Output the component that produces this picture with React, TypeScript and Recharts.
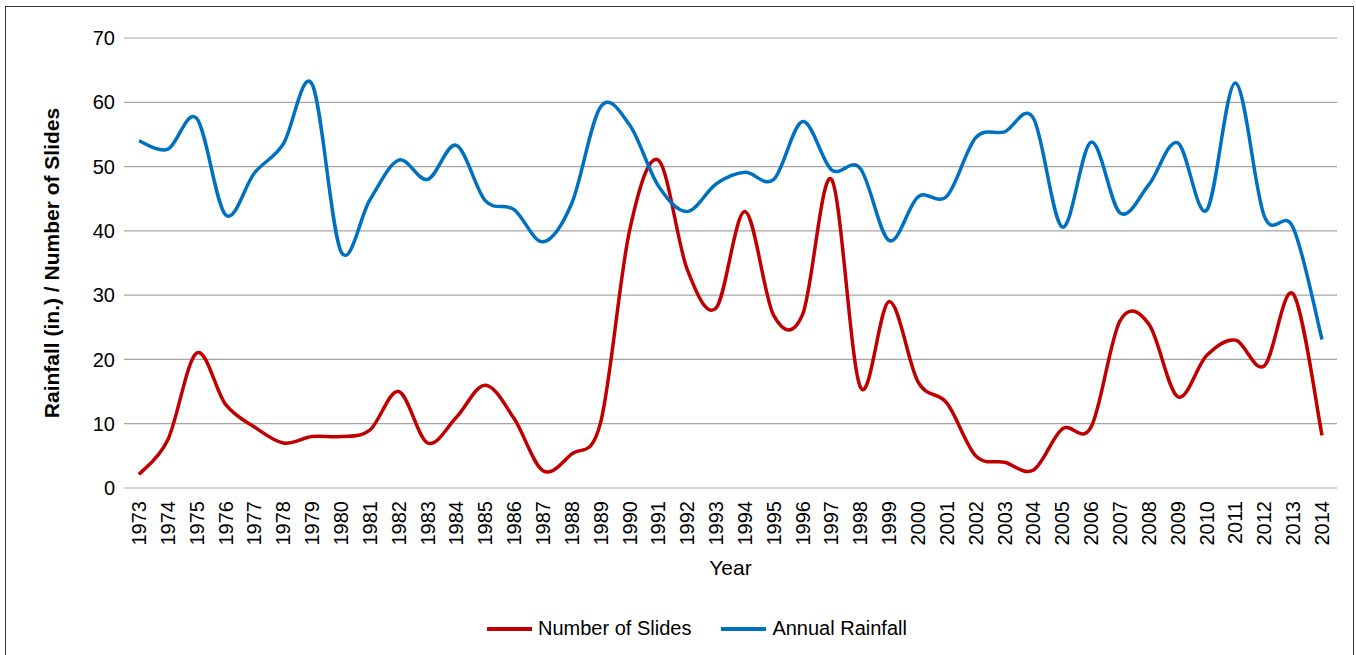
import { LineChart, Line, XAxis, YAxis, CartesianGrid } from 'recharts';

const years = [
  '1973', '1974', '1975', '1976', '1977', '1978', '1979', '1980', '1981', '1982', '1983', '1984', '1985', '1986',
  '1987', '1988', '1989', '1990', '1991', '1992', '1993', '1994', '1995', '1996', '1997', '1998', '1999', '2000',
  '2001', '2002', '2003', '2004', '2005', '2006', '2007', '2008', '2009', '2010', '2011', '2012', '2013', '2014',
];

const slides = [
  2.1, 7.5, 21, 13, 9.5, 7, 8, 8, 9, 15, 7, 11, 16, 10.8,
  2.7, 5.3, 10.2, 40, 51, 34, 28, 43, 26.8, 27, 48, 15.7, 29, 16.5,
  13.2, 5, 4, 2.8, 9.2, 9.5, 26, 25.5, 14.2, 20.6, 23, 19, 30.2, 8.2,
];

const rainfall = [
  54, 52.7, 57.5, 42.5, 49, 53.5, 62.8, 36.8, 44.8, 51, 48, 53.3, 44.7, 43.3,
  38.3, 44.3, 59.3, 56.5, 47, 43, 47.3, 49.1, 48, 57, 49.5, 49.7, 38.5, 45.3,
  45.4, 54.5, 55.4, 57.5, 40.6, 53.8, 42.8, 47.2, 53.7, 43.2, 63, 42.3, 40.5, 23.1,
];

const yTicks = [0, 10, 20, 30, 40, 50, 60, 70];

const data = years.map((year, i) => ({ year, slides: slides[i], rainfall: rainfall[i] }));

const FONT = 'Arial, "Liberation Sans", sans-serif';
const RED = '#C00000';
const BLUE = '#0070C0';

// Excel-style smoothing: bezier segments with control points at (next - prev) / 6
const excelSmooth = (context: any) => {
  let pts: number[][] = [];
  return {
    areaStart() {},
    areaEnd() {},
    lineStart() {
      pts = [];
    },
    point(x: number, y: number) {
      pts.push([+x, +y]);
    },
    lineEnd() {
      const n = pts.length;
      if (!n) return;
      context.moveTo(pts[0][0], pts[0][1]);
      for (let i = 0; i < n - 1; i++) {
        const p0 = pts[i - 1] || pts[i];
        const p1 = pts[i];
        const p2 = pts[i + 1];
        const p3 = pts[i + 2] || p2;
        context.bezierCurveTo(
          p1[0] + (p2[0] - p0[0]) / 6,
          p1[1] + (p2[1] - p0[1]) / 6,
          p2[0] - (p3[0] - p1[0]) / 6,
          p2[1] - (p3[1] - p1[1]) / 6,
          p2[0],
          p2[1]
        );
      }
    },
  };
};

const YearTick = ({ x, y, payload }: any) => (
  <text
    x={x}
    y={y + 13}
    transform={`rotate(-90, ${x}, ${y + 13})`}
    textAnchor="end"
    dominantBaseline="central"
    fontSize={20}
    fontFamily={FONT}
    fill="#000"
  >
    {payload.value}
  </text>
);

const legendItems = [
  { name: 'Number of Slides', color: RED },
  { name: 'Annual Rainfall', color: BLUE },
];

const App = () => {
  return (
    <div style={{ position: 'fixed', left: 0, top: 0, width: 1356, height: 655, overflow: 'hidden', background: '#fff' }}>
      <div
        style={{
          position: 'absolute',
          left: 5,
          top: 6,
          width: 1347,
          height: 660,
          border: '1px solid #333',
          background: '#fff',
        }}
      >
        <LineChart width={1347} height={660} data={data} margin={{ top: 31, right: 16, left: 30, bottom: 89 }}>
          <CartesianGrid vertical={false} stroke="#a6a6a6" strokeWidth={1.2} />
          <XAxis
            dataKey="year"
            interval={0}
            height={90}
            padding={{ left: 15, right: 15 }}
            tickLine={false}
            axisLine={false}
            tickSize={0}
            tickMargin={0}
            tick={<YearTick />}
            label={{
              content: ({ viewBox }: any) => (
                <text
                  x={viewBox.x + viewBox.width / 2}
                  y={viewBox.y + 79}
                  textAnchor="middle"
                  dominantBaseline="central"
                  fontSize={21}
                  fontFamily={FONT}
                  fill="#000"
                >
                  Year
                </text>
              ),
            }}
          />
          <YAxis
            width={88}
            domain={[0, 70]}
            ticks={yTicks}
            interval={0}
            tickLine={false}
            axisLine={false}
            tickSize={0}
            tickMargin={9}
            tick={{ fontSize: 20, fontFamily: FONT, fill: '#000' }}
            label={{
              content: ({ viewBox }: any) => {
                const cx = viewBox.x + 15;
                const cy = viewBox.y + viewBox.height / 2;
                return (
                  <text
                    x={cx}
                    y={cy}
                    transform={`rotate(-90, ${cx}, ${cy})`}
                    textAnchor="middle"
                    dominantBaseline="central"
                    fontSize={21}
                    fontWeight="bold"
                    fontFamily={FONT}
                    fill="#000"
                  >
                    Rainfall (in.) / Number of Slides
                  </text>
                );
              },
            }}
          />
          <Line
            dataKey="slides"
            name="Number of Slides"
            type={excelSmooth as any}
            stroke={RED}
            strokeWidth={3.5}
            dot={false}
            activeDot={false}
            isAnimationActive={false}
          />
          <Line
            dataKey="rainfall"
            name="Annual Rainfall"
            type={excelSmooth as any}
            stroke={BLUE}
            strokeWidth={3.5}
            dot={false}
            activeDot={false}
            isAnimationActive={false}
          />
        </LineChart>
        <div
          style={{
            position: 'absolute',
            left: 481,
            top: 610,
            display: 'flex',
            alignItems: 'center',
            fontFamily: FONT,
            fontSize: 20,
            color: '#000',
          }}
        >
          {legendItems.map((item, i) => (
            <div key={item.name} style={{ display: 'flex', alignItems: 'center', marginLeft: i ? 30 : 0 }}>
              <span style={{ display: 'inline-block', width: 45, height: 4, background: item.color, marginRight: 6 }} />
              <span>{item.name}</span>
            </div>
          ))}
        </div>
      </div>
    </div>
  );
};

export default App;
